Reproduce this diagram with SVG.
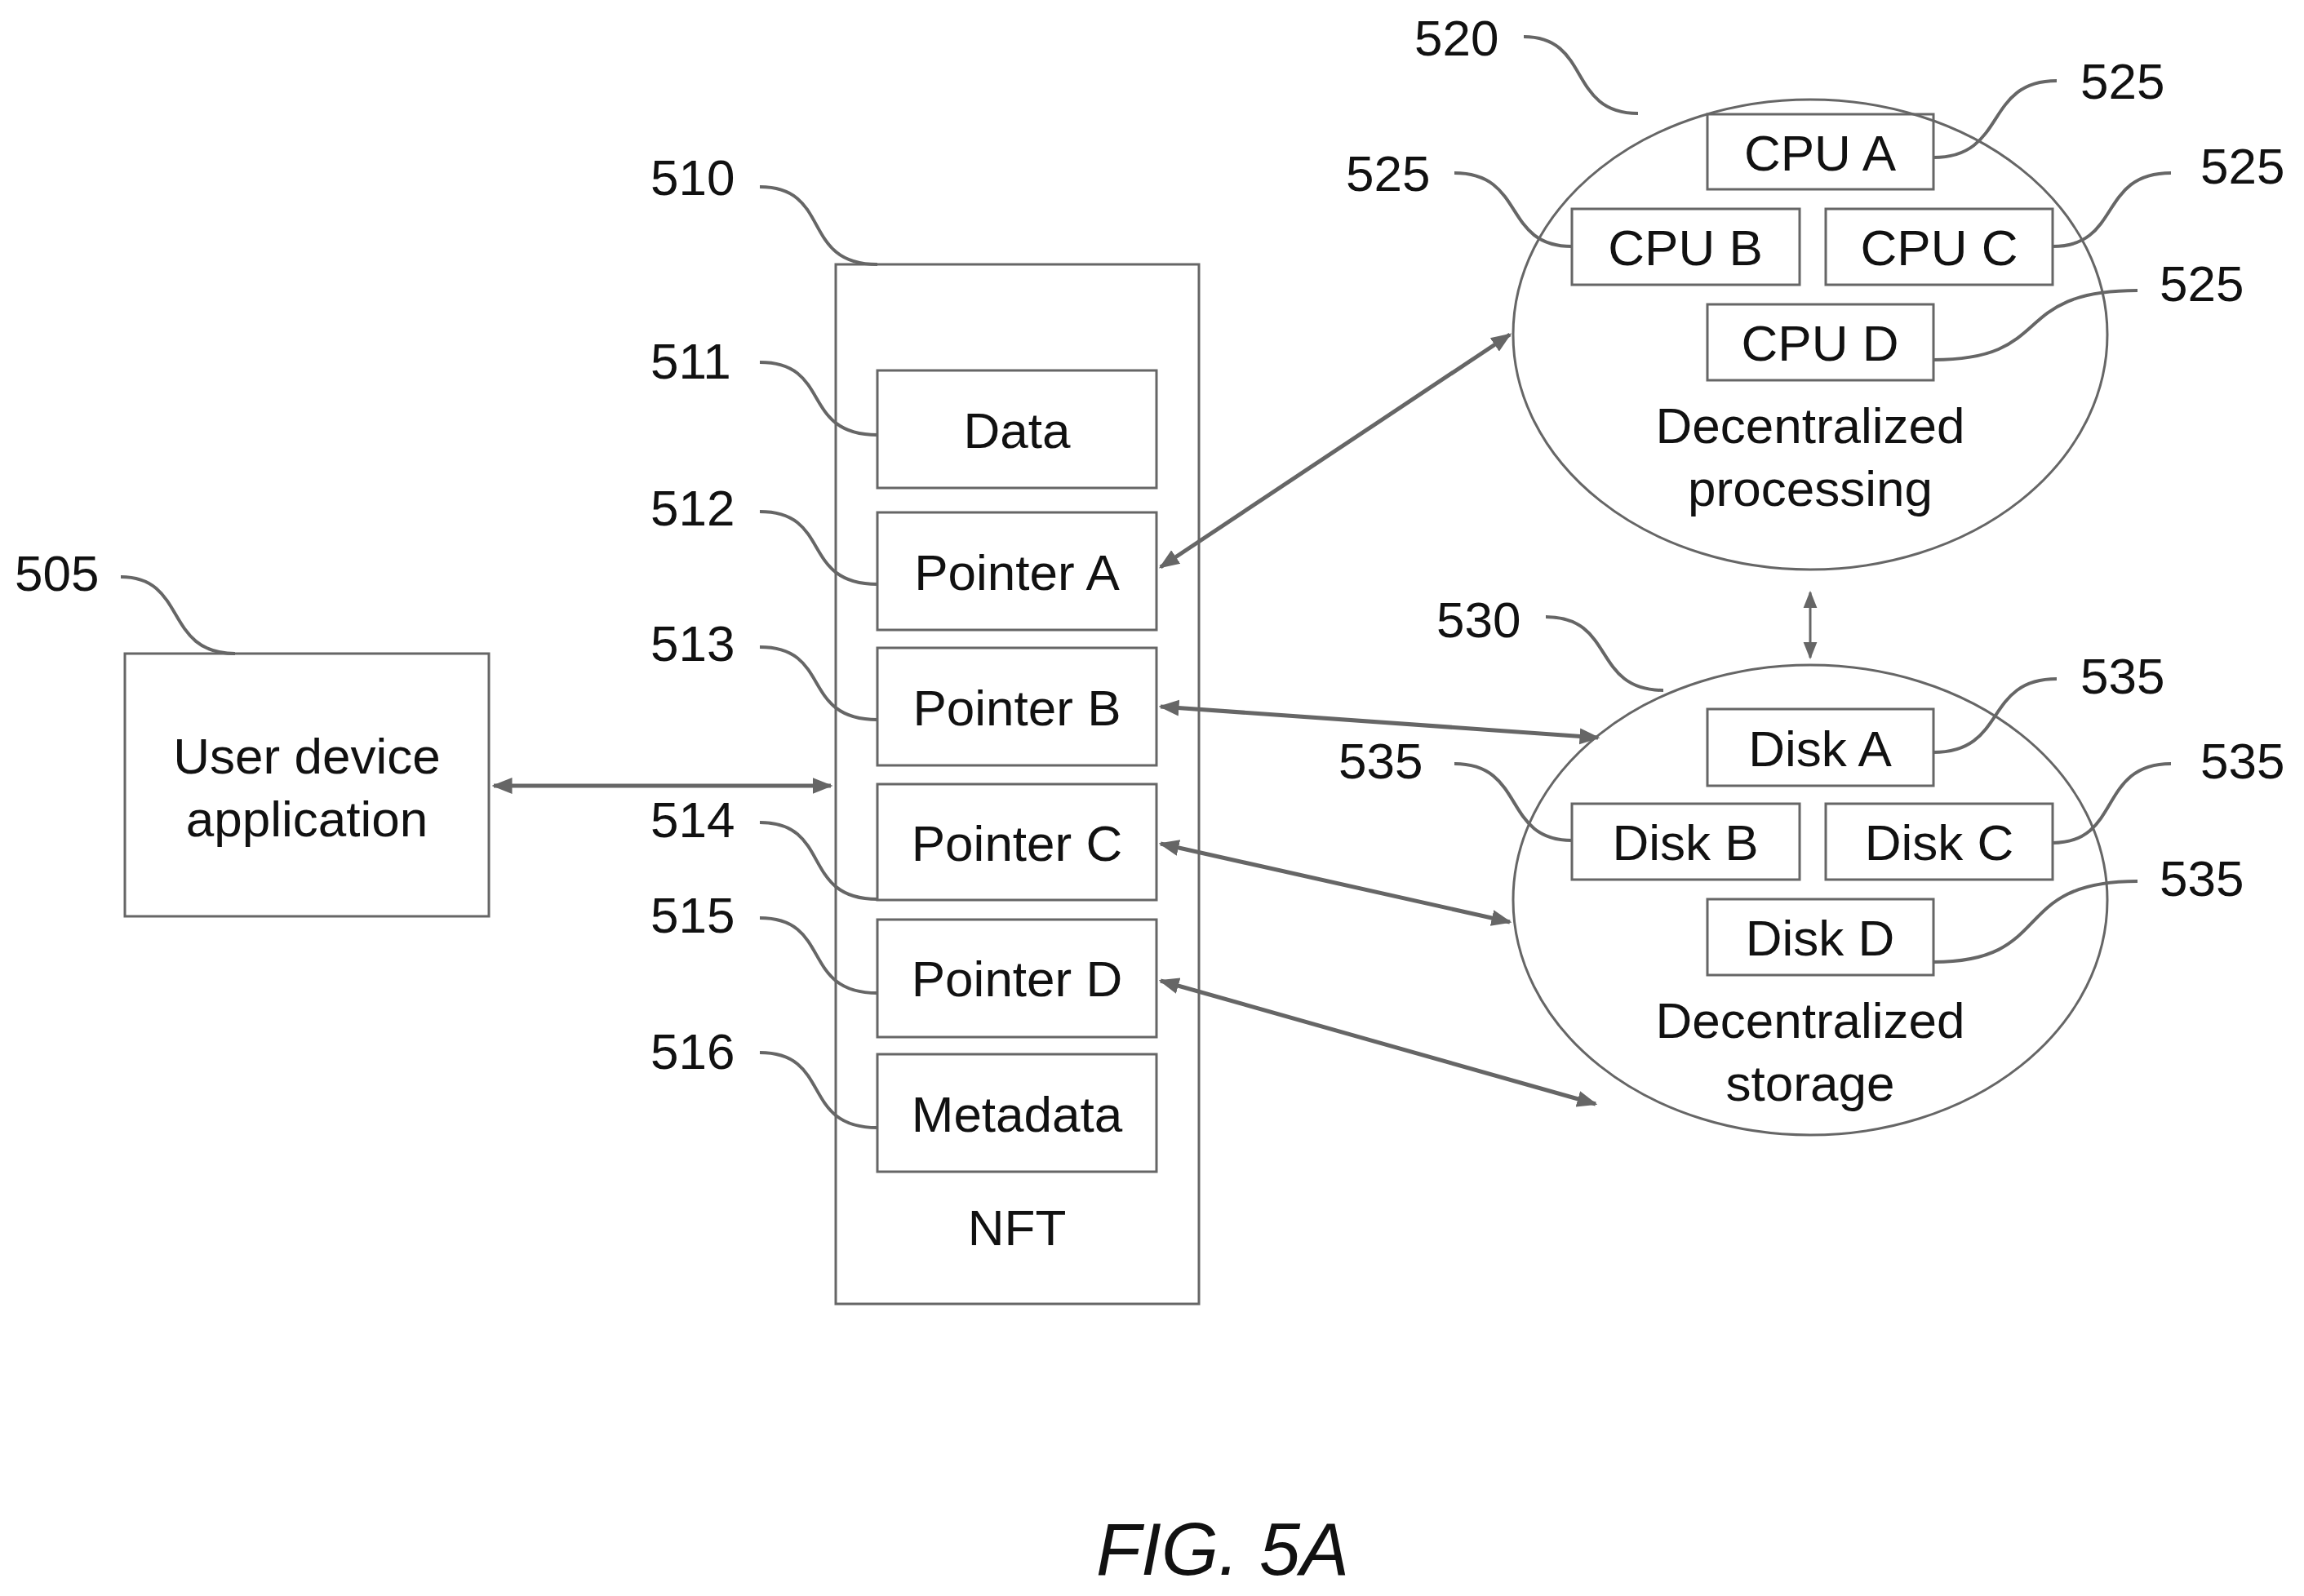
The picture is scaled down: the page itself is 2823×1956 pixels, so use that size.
<svg xmlns="http://www.w3.org/2000/svg" width="2823" height="1956" viewBox="0 0 2823 1956">
<style>
text{font-family:"Liberation Sans",Arial,sans-serif;font-size:62px;fill:#111}
.c{text-anchor:middle}
.box{fill:none;stroke:#666;stroke-width:3}
.ld{fill:none;stroke:#666;stroke-width:4}
.ar{fill:none;stroke:#666;stroke-width:5;marker-start:url(#a);marker-end:url(#a)}
</style>
<defs>
<marker id="a" viewBox="0 0 10 10" refX="9" refY="5" markerWidth="5" markerHeight="5" orient="auto-start-reverse" markerUnits="strokeWidth">
<path d="M0,1 L10,5 L0,9 z" fill="#666"/>
</marker>
<marker id="s" viewBox="0 0 10 10" refX="9" refY="5" markerWidth="7" markerHeight="7" orient="auto-start-reverse" markerUnits="strokeWidth">
<path d="M0,1 L10,5 L0,9 z" fill="#666"/>
</marker>
</defs>
<rect width="2823" height="1956" fill="#fff"/>
<g id="n505">
<rect class="box" x="153" y="801" width="446" height="322"/>
<text class="c" x="376" y="948">User device</text>
<text class="c" x="376" y="1025">application</text>
<text x="18" y="724">505</text>
</g>
<g id="n510">
<rect class="box" x="1024" y="324" width="445" height="1274"/>
<text class="c" x="1246" y="1526">NFT</text>
<text x="797" y="239">510</text>
</g>
<g id="n511"><rect class="box" x="1075" y="454" width="342" height="144"/><text class="c" x="1246" y="549">Data</text><text x="797" y="464">511</text></g>
<g id="n512"><rect class="box" x="1075" y="628" width="342" height="144"/><text class="c" x="1246" y="723">Pointer A</text><text x="797" y="644">512</text></g>
<g id="n513"><rect class="box" x="1075" y="794" width="342" height="144"/><text class="c" x="1246" y="889">Pointer B</text><text x="797" y="810">513</text></g>
<g id="n514"><rect class="box" x="1075" y="961" width="342" height="142"/><text class="c" x="1246" y="1055">Pointer C</text><text x="797" y="1026">514</text></g>
<g id="n515"><rect class="box" x="1075" y="1127" width="342" height="144"/><text class="c" x="1246" y="1221">Pointer D</text><text x="797" y="1143">515</text></g>
<g id="n516"><rect class="box" x="1075" y="1292" width="342" height="144"/><text class="c" x="1246" y="1387">Metadata</text><text x="797" y="1310">516</text></g>
<g id="n520">
<ellipse class="box" cx="2218" cy="410" rx="364" ry="288"/>
<text class="c" x="2218" y="543">Decentralized</text>
<text class="c" x="2218" y="620">processing</text>
<text x="1733" y="68">520</text>
</g>
<g id="n525">
<rect class="box" x="2092" y="140" width="277" height="92"/><text class="c" x="2230" y="209">CPU A</text>
<rect class="box" x="1926" y="256" width="279" height="93"/><text class="c" x="2065" y="325">CPU B</text>
<rect class="box" x="2237" y="256" width="278" height="93"/><text class="c" x="2376" y="325">CPU C</text>
<rect class="box" x="2092" y="373" width="277" height="93"/><text class="c" x="2230" y="442">CPU D</text>
<text x="2549" y="121">525</text>
<text x="1649" y="234">525</text>
<text x="2696" y="225">525</text>
<text x="2646" y="369">525</text>
</g>
<g id="n530">
<ellipse class="box" cx="2218" cy="1103" rx="364" ry="288"/>
<text class="c" x="2218" y="1272">Decentralized</text>
<text class="c" x="2218" y="1349">storage</text>
<text x="1760" y="781">530</text>
</g>
<g id="n535">
<rect class="box" x="2092" y="869" width="277" height="94"/><text class="c" x="2230" y="939">Disk A</text>
<rect class="box" x="1926" y="985" width="279" height="93"/><text class="c" x="2065" y="1054">Disk B</text>
<rect class="box" x="2237" y="985" width="278" height="93"/><text class="c" x="2376" y="1054">Disk C</text>
<rect class="box" x="2092" y="1102" width="277" height="93"/><text class="c" x="2230" y="1171">Disk D</text>
<text x="2549" y="850">535</text>
<text x="1640" y="954">535</text>
<text x="2696" y="954">535</text>
<text x="2646" y="1098">535</text>
</g>
<g id="connectors">
<line class="ar" x1="605" y1="963" x2="1018" y2="963"/>
<line class="ar" x1="1422" y1="695" x2="1850" y2="410"/>
<line class="ar" x1="1422" y1="866" x2="1958" y2="904"/>
<line class="ar" x1="1422" y1="1034" x2="1850" y2="1130"/>
<line class="ar" x1="1422" y1="1202" x2="1955" y2="1353"/>
<line x1="2218" y1="726" x2="2218" y2="806" stroke="#666" stroke-width="3" marker-start="url(#s)" marker-end="url(#s)"/>
</g>
<g id="leaders">
<path class="ld" d="M148,707 C230,707 200,801 288,801"/>
<path class="ld" d="M931,229 C1020,229 980,324 1075,324"/>
<path class="ld" d="M931,444 C1020,444 980,533 1075,533"/>
<path class="ld" d="M931,627 C1020,627 980,716 1075,716"/>
<path class="ld" d="M931,793 C1020,793 980,882 1075,882"/>
<path class="ld" d="M931,1008 C1020,1008 980,1102 1075,1102"/>
<path class="ld" d="M931,1125 C1020,1125 980,1217 1075,1217"/>
<path class="ld" d="M931,1290 C1020,1290 980,1382 1075,1382"/>
<path class="ld" d="M1867,45 C1950,45 1920,139 2007,139"/>
<path class="ld" d="M2369,193 C2460,193 2430,99 2520,99"/>
<path class="ld" d="M1782,212 C1870,212 1840,302 1926,302"/>
<path class="ld" d="M2515,302 C2600,302 2570,212 2660,212"/>
<path class="ld" d="M2369,441 C2520,441 2460,356 2619,356"/>
<path class="ld" d="M1894,756 C1980,756 1950,846 2038,846"/>
<path class="ld" d="M2369,922 C2460,922 2430,832 2520,832"/>
<path class="ld" d="M1782,936 C1870,936 1840,1030 1926,1030"/>
<path class="ld" d="M2515,1033 C2600,1033 2570,936 2660,936"/>
<path class="ld" d="M2369,1179 C2520,1179 2460,1080 2619,1080"/>
</g>
<text class="c" x="1498" y="1930" style="font-size:90px;font-style:italic">FIG. 5A</text>
</svg>
